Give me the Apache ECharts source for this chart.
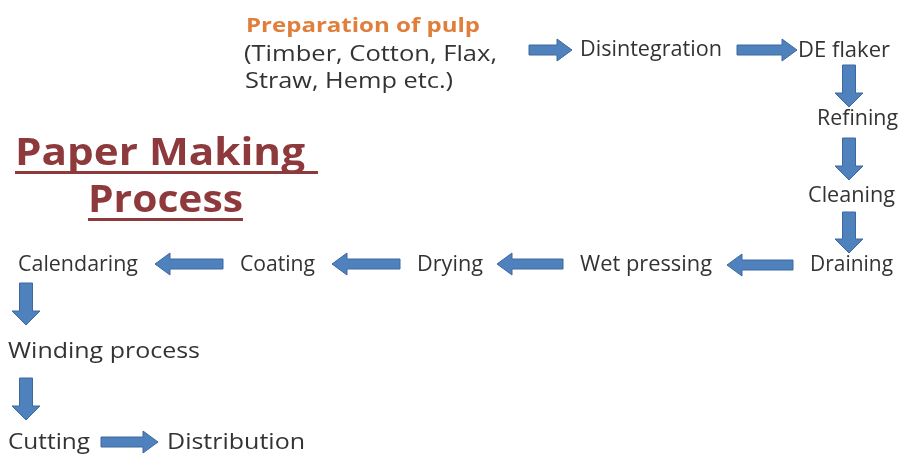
<!DOCTYPE html>
<html><head><meta charset="utf-8">
<script src="https://cdn.jsdelivr.net/npm/echarts@6/dist/echarts.min.js"></script>
<style>html,body{margin:0;padding:0;background:#fff}#c{width:900px;height:455px}</style>
</head><body><div id="c"></div>
<script>
// ---- data ----
const titleLines = ['Paper Making ', 'Process'];
const sourceLines = ['Preparation of pulp', '(Timber, Cotton, Flax,', 'Straw, Hemp etc.)'];
const steps = ['Disintegration', 'DE flaker', 'Refining', 'Cleaning', 'Draining', 'Wet pressing',
  'Drying', 'Coating', 'Calendaring', 'Winding process', 'Cutting', 'Distribution'];
const flow = [['Source', 'Disintegration'], ['Disintegration', 'DE flaker'], ['DE flaker', 'Refining'],
  ['Refining', 'Cleaning'], ['Cleaning', 'Draining'], ['Draining', 'Wet pressing'],
  ['Wet pressing', 'Drying'], ['Drying', 'Coating'], ['Coating', 'Calendaring'],
  ['Calendaring', 'Winding process'], ['Winding process', 'Cutting'], ['Cutting', 'Distribution']];

// ---- layout (page units): [left, right, centerY] ----
const textBox = {
  'Disintegration': [580, 722, 50], 'DE flaker': [798, 890, 51], 'Refining': [817, 898, 119],
  'Cleaning': [808, 895, 196], 'Draining': [810, 893, 265], 'Wet pressing': [580, 712, 265],
  'Drying': [417, 483, 265], 'Coating': [240, 315, 265], 'Calendaring': [18, 138, 265],
  'Winding process': [8, 200, 352], 'Cutting': [8, 90, 443], 'Distribution': [167, 305, 443]
};
const sourceBox = [[246, 480, 26], [244, 497, 55], [245, 453, 82]];
const titleBox = [[15, 305, 154, 318, 171], [88, 243, 201, 243, 218]];
const arrowPos = [
  [529, 50, 572, 50], [737, 50, 797, 50], [849, 65, 849, 107], [849, 138, 849, 180],
  [849, 212, 849, 253], [793, 265, 727, 265], [563, 264, 497, 264], [400, 264, 332, 264],
  [223, 264, 155, 264], [26, 283, 26, 325], [26, 378, 26, 420], [101, 442, 158, 442]
];

const FONT = '"Open Sans", sans-serif';
const ctx = document.createElement('canvas').getContext('2d');
function measure(text, font) { ctx.font = font; return ctx.measureText(text).width; }

const chart = echarts.init(document.getElementById('c'));

function arrowShape(p1, p2, shaft, headW, headL) {
  const dx = p2[0] - p1[0], dy = p2[1] - p1[1];
  const len = Math.sqrt(dx * dx + dy * dy);
  const ux = dx / len, uy = dy / len, nx = -uy, ny = ux;
  const neck = [p2[0] - ux * headL, p2[1] - uy * headL];
  return [
    [p1[0] + nx * shaft / 2, p1[1] + ny * shaft / 2],
    [neck[0] + nx * shaft / 2, neck[1] + ny * shaft / 2],
    [neck[0] + nx * headW / 2, neck[1] + ny * headW / 2],
    p2,
    [neck[0] - nx * headW / 2, neck[1] - ny * headW / 2],
    [neck[0] - nx * shaft / 2, neck[1] - ny * shaft / 2],
    [p1[0] - nx * shaft / 2, p1[1] - ny * shaft / 2]
  ];
}

function fittedText(api, text, box, font, fill) {
  const p = api.coord([box[0], box[2]]);
  const e = api.coord([box[1], box[2]]);
  const w = measure(text.trimEnd(), font);
  return {
    type: 'text', x: p[0], y: p[1], scaleX: (e[0] - p[0]) / w,
    style: { text: text, x: 0, y: 0, align: 'left', verticalAlign: 'middle', font: font, fill: fill }
  };
}

chart.setOption({
  animation: false,
  grid: { left: 0, right: 0, top: 0, bottom: 0 },
  xAxis: { type: 'value', min: 0, max: 900, show: false },
  yAxis: { type: 'value', min: 0, max: 455, inverse: true, show: false },
  series: [
    { // arrows
      type: 'custom',
      data: flow.map((f, i) => [i]),
      renderItem: function (params, api) {
        const a = arrowPos[params.dataIndex];
        const p1 = api.coord([a[0], a[1]]), p2 = api.coord([a[2], a[3]]);
        const vertical = Math.abs(a[3] - a[1]) > Math.abs(a[2] - a[0]);
        const pts = vertical ? arrowShape(p1, p2, 13, 28, 14) : arrowShape(p1, p2, 10, 22, 15);
        return {
          type: 'polygon', shape: { points: pts },
          style: { fill: '#4F81BD', stroke: '#3C68A0', lineWidth: 1 }
        };
      }
    },
    { // step labels
      type: 'custom',
      data: steps.map((s, i) => [i]),
      renderItem: function (params, api) {
        const name = steps[params.dataIndex];
        return fittedText(api, name, textBox[name], '500 21px ' + FONT, '#333333');
      }
    },
    { // source block
      type: 'custom',
      data: sourceLines.map((s, i) => [i]),
      renderItem: function (params, api) {
        const i = params.dataIndex;
        return fittedText(api, sourceLines[i], sourceBox[i],
          (i === 0 ? 'bold 20px ' : '500 21px ') + FONT, i === 0 ? '#E07E3C' : '#333333');
      }
    },
    { // title
      type: 'custom',
      data: titleLines.map((s, i) => [i]),
      renderItem: function (params, api) {
        const i = params.dataIndex;
        const t = titleBox[i];
        const txt = fittedText(api, titleLines[i], [t[0], t[1], t[2]], 'bold 37px ' + FONT, '#8E3A3C');
        const p = api.coord([t[0], t[4]]);
        const e = api.coord([t[3], t[4]]);
        return {
          type: 'group',
          children: [
            txt,
            { type: 'rect', shape: { x: p[0], y: p[1], width: e[0] - p[0], height: 3 }, style: { fill: '#8E3A3C' } }
          ]
        };
      }
    }
  ]
});
</script></body></html>
